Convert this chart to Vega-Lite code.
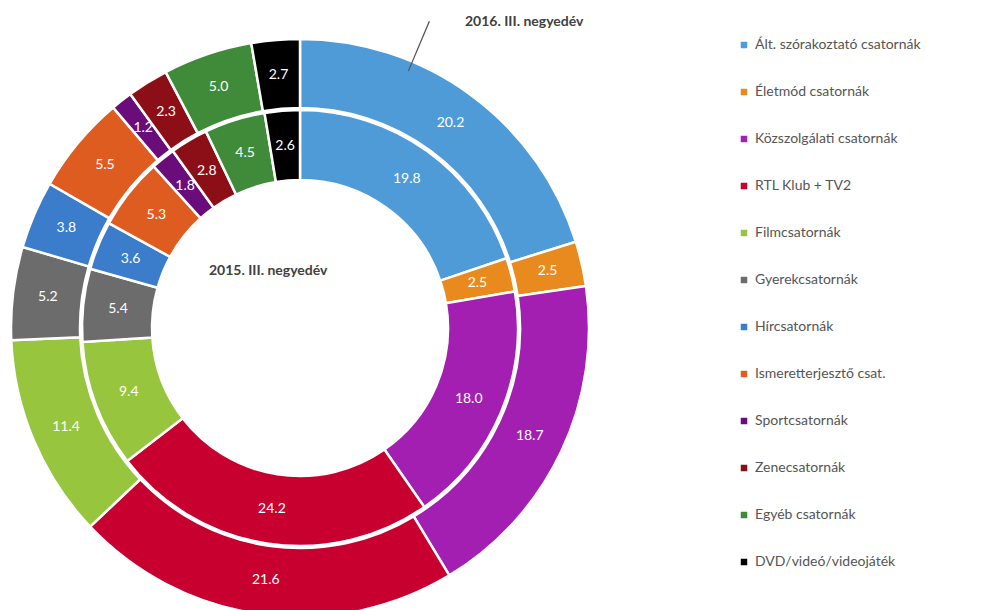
{
  "$schema": "https://vega.github.io/schema/vega-lite/v6.json",
  "autosize": "none",
  "width": 600,
  "height": 564,
  "padding": {"left": 0, "top": 46, "right": 388, "bottom": 0},
  "background": "white",
  "config": {"view": {"stroke": null}, "font": "Lato"},
  "datasets": {
    "share": [
      {"category": "Ált. szórakoztató csatornák", "year": 2016, "value": 20.2, "order": 1},
      {"category": "Életmód csatornák", "year": 2016, "value": 2.5, "order": 2},
      {"category": "Közszolgálati csatornák", "year": 2016, "value": 18.7, "order": 3},
      {"category": "RTL Klub + TV2", "year": 2016, "value": 21.6, "order": 4},
      {"category": "Filmcsatornák", "year": 2016, "value": 11.4, "order": 5},
      {"category": "Gyerekcsatornák", "year": 2016, "value": 5.2, "order": 6},
      {"category": "Hírcsatornák", "year": 2016, "value": 3.8, "order": 7},
      {"category": "Ismeretterjesztő csat.", "year": 2016, "value": 5.5, "order": 8},
      {"category": "Sportcsatornák", "year": 2016, "value": 1.2, "order": 9},
      {"category": "Zenecsatornák", "year": 2016, "value": 2.3, "order": 10},
      {"category": "Egyéb csatornák", "year": 2016, "value": 5.0, "order": 11},
      {"category": "DVD/videó/videojáték", "year": 2016, "value": 2.7, "order": 12},
      {"category": "Ált. szórakoztató csatornák", "year": 2015, "value": 19.8, "order": 1},
      {"category": "Életmód csatornák", "year": 2015, "value": 2.5, "order": 2},
      {"category": "Közszolgálati csatornák", "year": 2015, "value": 18.0, "order": 3},
      {"category": "RTL Klub + TV2", "year": 2015, "value": 24.2, "order": 4},
      {"category": "Filmcsatornák", "year": 2015, "value": 9.4, "order": 5},
      {"category": "Gyerekcsatornák", "year": 2015, "value": 5.4, "order": 6},
      {"category": "Hírcsatornák", "year": 2015, "value": 3.6, "order": 7},
      {"category": "Ismeretterjesztő csat.", "year": 2015, "value": 5.3, "order": 8},
      {"category": "Sportcsatornák", "year": 2015, "value": 1.8, "order": 9},
      {"category": "Zenecsatornák", "year": 2015, "value": 2.8, "order": 10},
      {"category": "Egyéb csatornák", "year": 2015, "value": 4.5, "order": 11},
      {"category": "DVD/videó/videojáték", "year": 2015, "value": 2.6, "order": 12}
    ]
  },
  "layer": [
    {
      "data": {"name": "share"},
      "transform": [{"filter": "datum.year == 2016"}],
      "layer": [
        {
          "mark": {"type": "arc", "radius": 289, "radius2": 220, "stroke": "white", "strokeWidth": 2.5},
          "encoding": {
            "theta": {"field": "value", "type": "quantitative", "stack": true},
            "order": {"field": "order", "type": "quantitative", "sort": "ascending"},
            "color": {
              "field": "category", "type": "nominal",
              "scale": {
                "domain": ["Ált. szórakoztató csatornák", "Életmód csatornák", "Közszolgálati csatornák", "RTL Klub + TV2", "Filmcsatornák", "Gyerekcsatornák", "Hírcsatornák", "Ismeretterjesztő csat.", "Sportcsatornák", "Zenecsatornák", "Egyéb csatornák", "DVD/videó/videojáték"],
                "range": ["#4E9BD8", "#E88A1E", "#A21FB2", "#C70030", "#97C53D", "#6C6C6C", "#3B7CCB", "#DF5C20", "#6B0C7B", "#8C0E16", "#3F8B3A", "#000000"]
              },
              "legend": {
                "title": null, "orient": "none", "legendX": 737, "legendY": -8,
                "symbolType": "square", "symbolSize": 42, "symbolStrokeWidth": 0,
                "labelFont": "Lato", "labelFontSize": 14, "labelColor": "#555555",
                "rowPadding": 33, "labelOffset": 4, "padding": 0, "labelLimit": 300
              }
            }
          }
        },
        {
          "mark": {"type": "text", "radius": 254, "color": "white", "fontSize": 14, "font": "Lato"},
          "encoding": {
            "theta": {"field": "value", "type": "quantitative", "stack": true},
            "order": {"field": "order", "type": "quantitative", "sort": "ascending"},
            "detail": {"field": "category", "type": "nominal"},
            "text": {"field": "value", "type": "quantitative", "format": ".1f"}
          }
        }
      ]
    },
    {
      "data": {"name": "share"},
      "transform": [{"filter": "datum.year == 2015"}],
      "layer": [
        {
          "mark": {"type": "arc", "radius": 218, "radius2": 148, "stroke": "white", "strokeWidth": 2.5},
          "encoding": {
            "theta": {"field": "value", "type": "quantitative", "stack": true},
            "order": {"field": "order", "type": "quantitative", "sort": "ascending"},
            "color": {"field": "category", "type": "nominal"}
          }
        },
        {
          "mark": {"type": "text", "radius": 183, "color": "white", "fontSize": 14, "font": "Lato"},
          "encoding": {
            "theta": {"field": "value", "type": "quantitative", "stack": true},
            "order": {"field": "order", "type": "quantitative", "sort": "ascending"},
            "detail": {"field": "category", "type": "nominal"},
            "text": {"field": "value", "type": "quantitative", "format": ".1f"}
          }
        }
      ]
    },
    {
      "data": {"values": [{"label": "2016. III. negyedév"}]},
      "mark": {"type": "text", "theta": 0.494, "radius": 348, "align": "left", "baseline": "middle", "fontSize": 14, "fontWeight": "bold", "color": "#404040", "font": "Lato"},
      "encoding": {"text": {"field": "label"}}
    },
    {
      "data": {"values": [{"label": "2015. III. negyedév"}]},
      "mark": {"type": "text", "theta": 5.772, "radius": 65, "align": "center", "baseline": "middle", "fontSize": 14, "fontWeight": "bold", "color": "#404040", "font": "Lato"},
      "encoding": {"text": {"field": "label"}}
    },
    {
      "data": {"values": [{"label": "leader"}]},
      "mark": {"type": "arc", "theta": 0.397, "theta2": 0.401, "radius": 333, "radius2": 279, "color": "#555555"},
      "encoding": {}
    }
  ],
  "resolve": {"scale": {"theta": "independent"}}
}
